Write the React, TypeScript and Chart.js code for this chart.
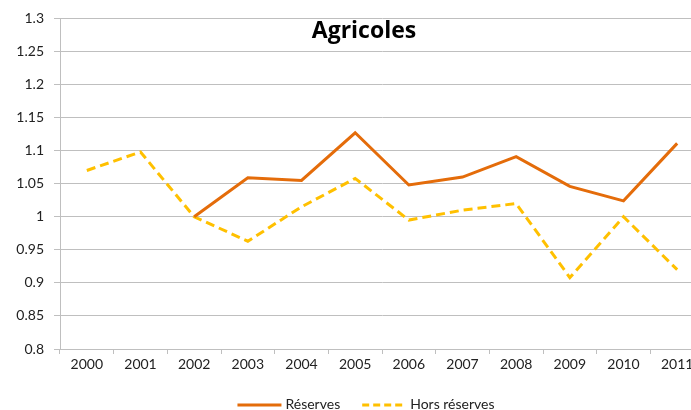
import React, { useEffect, useRef } from "react";
import { Chart, registerables } from "chart.js";

Chart.register(...registerables);

const years = ["2000", "2001", "2002", "2003", "2004", "2005", "2006", "2007", "2008", "2009", "2010", "2011"];
const reserves = [null, null, 1.0, 1.059, 1.055, 1.127, 1.048, 1.06, 1.091, 1.046, 1.024, 1.111];
const horsReserves = [1.07, 1.098, 1.0, 0.963, 1.015, 1.058, 0.995, 1.01, 1.02, 0.908, 1.0, 0.92];
const titleText = "Agricoles";
const FONT = "Lato, 'Open Sans', sans-serif";

const titlePlugin = {
  id: "overlayTitle",
  afterDraw(chart: any) {
    const ctx = chart.ctx;
    ctx.save();
    ctx.font = `bold 23px 'Open Sans', sans-serif`;
    ctx.fillStyle = "#000";
    ctx.textAlign = "center";
    ctx.textBaseline = "alphabetic";
    ctx.fillText(titleText, 364, 38);
    ctx.restore();
  },
};

const legendPlugin = {
  id: "customLegend",
  afterDraw(chart: any) {
    const ctx = chart.ctx;
    const ds = chart.data.datasets;
    const lineLen = 44;
    const gapText = 4;
    const gapItem = 22;
    ctx.save();
    ctx.font = `14px ${FONT}`;
    const widths = ds.map((d: any) => ctx.measureText(d.label).width);
    let total = 0;
    widths.forEach((w: number, i: number) => {
      total += lineLen + gapText + w + (i < widths.length - 1 ? gapItem : 0);
    });
    let x = 366 - total / 2;
    const y = 404;
    ds.forEach((d: any, i: number) => {
      ctx.beginPath();
      ctx.strokeStyle = d.borderColor;
      ctx.lineWidth = d.borderWidth;
      ctx.setLineDash(d.borderDash ? [7, 4] : []);
      ctx.moveTo(x, y + 1);
      ctx.lineTo(x + lineLen, y + 1);
      ctx.stroke();
      ctx.setLineDash([]);
      ctx.fillStyle = "#222";
      ctx.textAlign = "left";
      ctx.textBaseline = "middle";
      ctx.fillText(d.label, x + lineLen + gapText, y);
      x += lineLen + gapText + widths[i] + gapItem;
    });
    ctx.restore();
  },
};

export default function App() {
  const ref = useRef<HTMLCanvasElement | null>(null);
  useEffect(() => {
    if (!ref.current) return;
    const chart = new Chart(ref.current, {
      type: "line",
      data: {
        labels: years,
        datasets: [
          {
            label: "Réserves",
            data: reserves,
            borderColor: "#E46C0A",
            backgroundColor: "#E46C0A",
            borderWidth: 3,
            pointRadius: 0,
            tension: 0,
            spanGaps: false,
          },
          {
            label: "Hors réserves",
            data: horsReserves,
            borderColor: "#FFC000",
            backgroundColor: "#FFC000",
            borderWidth: 3,
            borderDash: [9, 5],
            pointRadius: 0,
            tension: 0,
          },
        ],
      },
      plugins: [titlePlugin, legendPlugin],
      options: {
        animation: false,
        responsive: false,
        maintainAspectRatio: false,
        layout: { padding: { top: 17, left: 0, right: 0, bottom: 0 } },
        plugins: {
          title: { display: false },
          tooltip: { enabled: false },
          legend: { display: false },
        },
        scales: {
          x: {
            offset: true,
            grid: { offset: true, drawOnChartArea: false, drawTicks: true, tickLength: 5, color: "#BFBFBF" },
            border: { color: "#BFBFBF" },
            ticks: { color: "#222", font: { family: FONT, size: 14 }, maxRotation: 0, autoSkip: false, padding: 2 },
            afterFit: (scale: any) => {
              scale.height = 61;
            },
          },
          y: {
            min: 0.8,
            max: 1.3,
            grid: { color: "#BFBFBF", tickLength: 6 },
            border: { color: "#BFBFBF" },
            ticks: {
              stepSize: 0.05,
              color: "#222",
              font: { family: FONT, size: 14 },
              padding: 10,
              callback: (v: any) => String(Number(Number(v).toFixed(2))),
            },
            afterFit: (scale: any) => {
              scale.width = 60;
            },
          },
        },
      },
    });
    return () => chart.destroy();
  }, []);
  return (
    <div style={{ position: "fixed", left: 0, top: 0, width: 691, height: 410, overflow: "hidden", background: "#fff" }}>
      <canvas ref={ref} width={704} height={410} style={{ display: "block" }} />
    </div>
  );
}
